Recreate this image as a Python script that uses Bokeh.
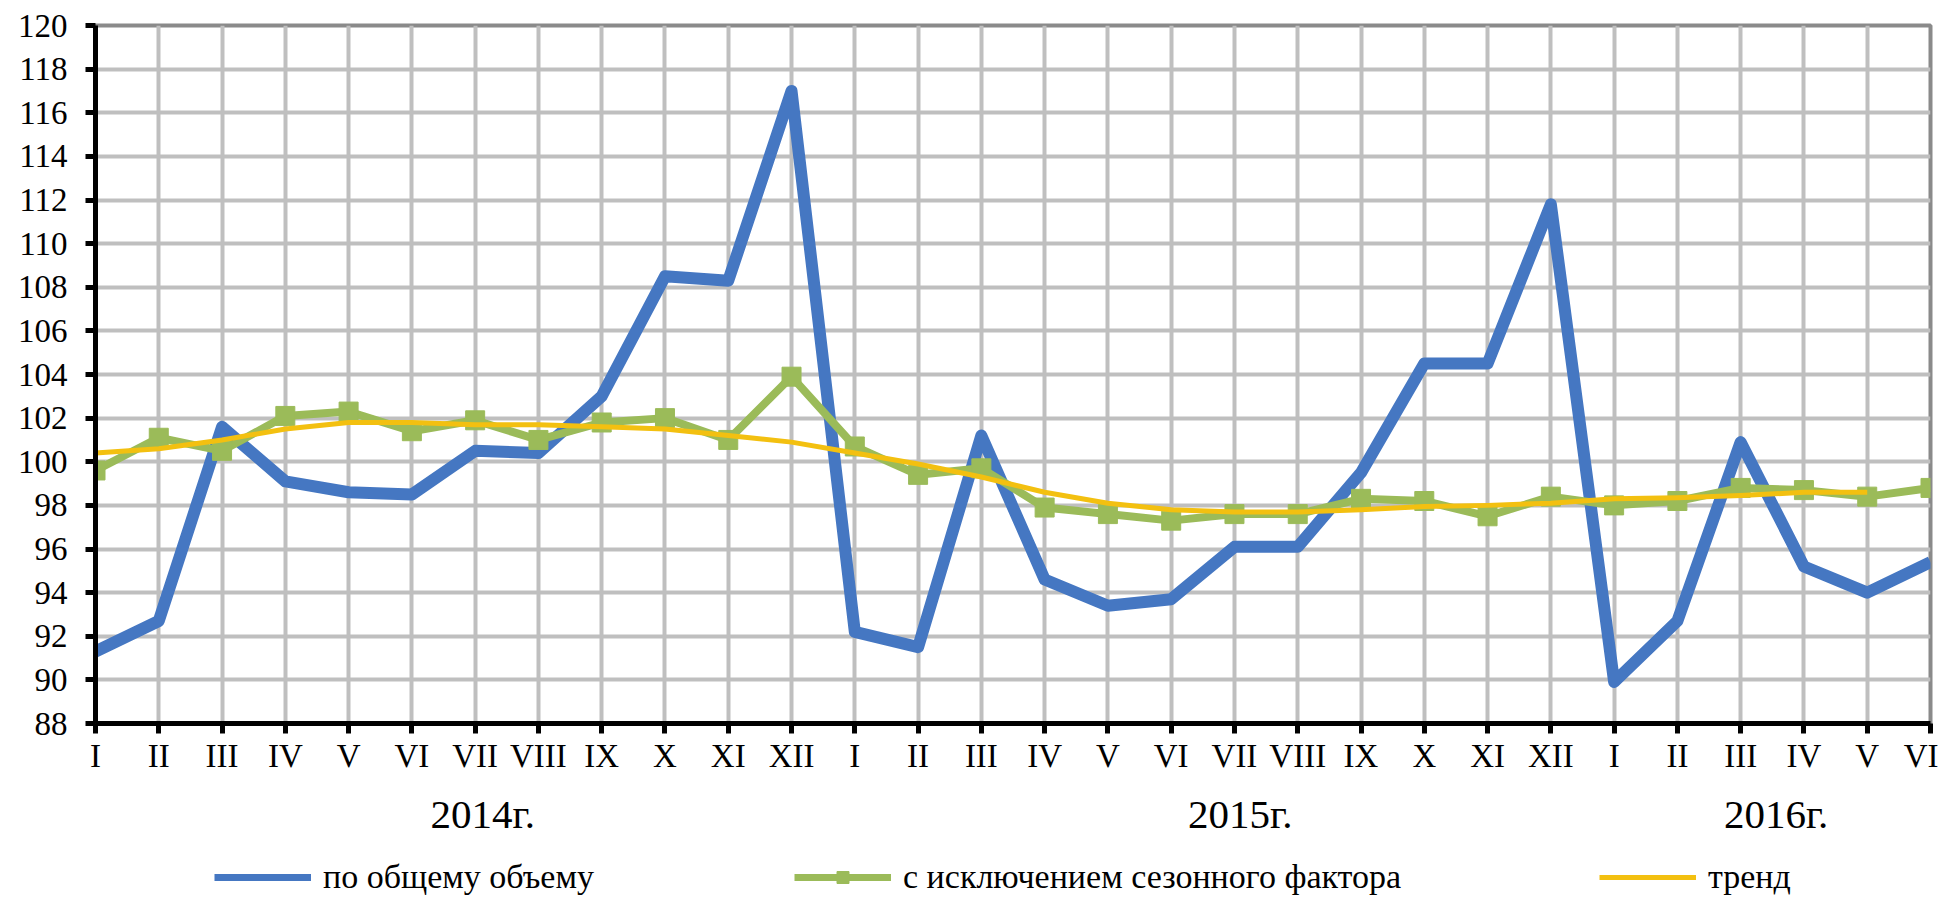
from bokeh.plotting import figure
from bokeh.layouts import column
from bokeh.models import FixedTicker, Legend, LegendItem, Range1d, LinearAxis
from bokeh.embed import file_html
from bokeh.resources import INLINE

# ---- data ----
months = ["I", "II", "III", "IV", "V", "VI", "VII", "VIII", "IX", "X", "XI", "XII",
          "I", "II", "III", "IV", "V", "VI", "VII", "VIII", "IX", "X", "XI", "XII",
          "I", "II", "III", "IV", "V", "VI"]
years = ["2014г.", "2015г.", "2016г."]
year_pos = [6.12, 18.09, 26.56]

total_volume = [91.3, 92.7, 101.6, 99.1, 98.6, 98.5, 100.5, 100.4, 103.0, 108.5, 108.3, 117.0,
                92.2, 91.5, 101.2, 94.6, 93.4, 93.7, 96.1, 96.1, 99.5, 104.5, 104.5, 111.8,
                89.9, 92.7, 100.9, 95.2, 94.0, 95.4]
seasonal_adj = [99.6, 101.1, 100.5, 102.1, 102.3, 101.4, 101.9, 101.0, 101.8, 102.0, 101.0, 103.9,
                100.7, 99.4, 99.7, 97.9, 97.6, 97.3, 97.6, 97.6, 98.3, 98.2, 97.5, 98.4,
                98.0, 98.2, 98.8, 98.7, 98.4, 98.8]
trend = [100.4, 100.6, 101.0, 101.5, 101.8, 101.8, 101.7, 101.7, 101.6, 101.5, 101.2, 100.9,
         100.4, 99.9, 99.3, 98.6, 98.1, 97.8, 97.7, 97.7, 97.8, 97.95, 98.0, 98.1,
         98.3, 98.35, 98.45, 98.6, 98.6]

series_names = ["по общему объему", "с исключением сезонного фактора", "тренд"]

x_all = list(range(len(months)))
x_trend = list(range(len(trend)))

FONT = "Liberation Serif"
BLUE = "#4577C2"
GREEN = "#9BBB59"
GOLD = "#F3C010"

W = 1938
H_MAIN = 840
H_LEG = 58
LEFT, RIGHT = 95, 8

p = figure(width=W, height=H_MAIN, output_backend="svg", toolbar_location=None,
           x_range=Range1d(0, len(months) - 1), y_range=Range1d(88, 120),
           min_border_left=LEFT, min_border_right=RIGHT, min_border_top=25,
           min_border_bottom=H_MAIN - 25 - 698)

p.background_fill_color = "white"
p.border_fill_color = "white"
p.outline_line_color = "#8A8A8A"
p.outline_line_width = 4

# grid
for g in (p.xgrid, p.ygrid):
    g.grid_line_color = "#BFBFBF"
    g.grid_line_width = 4
p.xgrid.ticker = FixedTicker(ticks=x_all)
p.ygrid.ticker = FixedTicker(ticks=list(range(88, 121, 2)))

# axes
p.xaxis.ticker = FixedTicker(ticks=x_all)
p.xaxis.major_label_overrides = {i: m for i, m in enumerate(months)}
p.yaxis.ticker = FixedTicker(ticks=list(range(88, 121, 2)))
for ax in (p.xaxis, p.yaxis):
    ax.axis_line_color = "black"
    ax.axis_line_width = 5
    ax.major_tick_line_color = "black"
    ax.major_tick_line_width = 5
    ax.major_tick_in = 0
    ax.major_tick_out = 10
    ax.minor_tick_line_color = None
    ax.major_label_text_font = FONT
    ax.major_label_text_font_size = "33px"
    ax.major_label_text_color = "black"
p.xaxis.major_label_standoff = 4
p.yaxis.major_label_standoff = 18

# year labels as a second category level
year_axis = LinearAxis(ticker=FixedTicker(ticks=year_pos),
                       major_label_overrides={xp: yr for xp, yr in zip(year_pos, years)},
                       axis_line_color=None, major_tick_line_color=None, minor_tick_line_color=None,
                       major_tick_in=0, major_tick_out=0, major_label_standoff=14,
                       major_label_text_font=FONT, major_label_text_font_size="41px",
                       major_label_text_color="black")
p.add_layout(year_axis, "below")

# series
r_blue = p.line(x_all, total_volume, line_color=BLUE, line_width=12, line_join="round")
r_green = p.line(x_all, seasonal_adj, line_color=GREEN, line_width=8, line_join="round")
r_green_m = p.scatter(x_all, seasonal_adj, marker="square", size=19, fill_color=GREEN, line_color=GREEN)
r_gold = p.line(x_trend, trend, line_color=GOLD, line_width=5, line_join="round")

# legend strip
p2 = figure(width=W, height=H_LEG, output_backend="svg", toolbar_location=None,
            x_range=p.x_range, y_range=Range1d(0, 1),
            min_border_left=LEFT, min_border_right=RIGHT, min_border_top=0, min_border_bottom=0)
p2.axis.visible = False
p2.grid.visible = False
p2.outline_line_color = None
p2.background_fill_color = "white"
p2.border_fill_color = "white"

d_blue = p2.line([-50, -49], [0.5, 0.5], line_color=BLUE, line_width=7)
d_green = p2.line([-50, -49], [0.5, 0.5], line_color=GREEN, line_width=7)
d_green_m = p2.scatter([-50], [0.5], marker="square", size=19, fill_color=GREEN, line_color=GREEN)
d_gold = p2.line([-50, -49], [0.5, 0.5], line_color=GOLD, line_width=5)

leg_specs = [
    (series_names[0], [d_blue], 119),
    (series_names[1], [d_green, d_green_m], 699),
    (series_names[2], [d_gold], 1504),
]
for name, rends, xloc in leg_specs:
    leg = Legend(items=[LegendItem(label=name, renderers=rends)], location=(xloc, 2),
                 orientation="horizontal", glyph_width=97, glyph_height=30, label_height=30,
                 label_standoff=12, padding=0, margin=0, spacing=0,
                 border_line_alpha=0, background_fill_alpha=0,
                 label_text_font=FONT, label_text_font_size="34px", label_text_color="black")
    p2.add_layout(leg, "center")

open("out.html", "w").write(file_html(column(p, p2, spacing=0), INLINE))
